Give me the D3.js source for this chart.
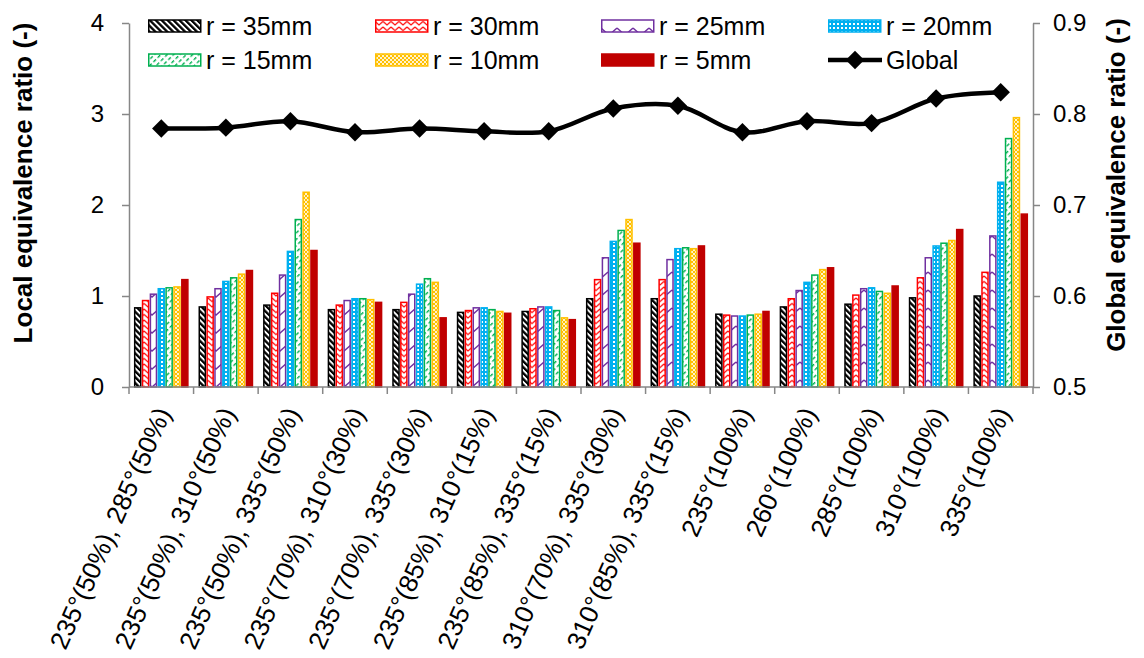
<!DOCTYPE html>
<html>
<head>
<meta charset="utf-8">
<script src="https://cdn.jsdelivr.net/npm/d3@7/dist/d3.min.js"></script>
<style>
  body { margin: 0; background: #fff; }
  text { font-family: "Liberation Sans", Arial, sans-serif; fill: #000; }
</style>
</head>
<body>
<svg id="chart" width="1144" height="658"></svg>
<script>
// Mixture cases on the category axis
const categories = [
  "235°(50%), 285°(50%)", "235°(50%), 310°(50%)", "235°(50%), 335°(50%)",
  "235°(70%), 310°(30%)", "235°(70%), 335°(30%)", "235°(85%), 310°(15%)",
  "235°(85%), 335°(15%)", "310°(70%), 335°(30%)", "310°(85%), 335°(15%)",
  "235°(100%)", "260°(100%)", "285°(100%)", "310°(100%)", "335°(100%)"
];

// Local equivalence ratio at each radius
const seriesNames = ["r = 35mm", "r = 30mm", "r = 25mm", "r = 20mm", "r = 15mm", "r = 10mm", "r = 5mm"];
const r35 = [0.87, 0.88, 0.90, 0.85, 0.85, 0.82, 0.83, 0.97, 0.97, 0.80, 0.88, 0.91, 0.98, 1.00];
const r30 = [0.95, 0.99, 1.03, 0.90, 0.93, 0.84, 0.86, 1.18, 1.18, 0.79, 0.97, 1.01, 1.20, 1.26];
const r25 = [1.02, 1.08, 1.23, 0.95, 1.02, 0.87, 0.88, 1.42, 1.40, 0.78, 1.06, 1.08, 1.42, 1.66];
const r20 = [1.08, 1.16, 1.49, 0.97, 1.13, 0.87, 0.88, 1.60, 1.52, 0.78, 1.15, 1.09, 1.55, 2.25];
const r15 = [1.09, 1.20, 1.84, 0.97, 1.19, 0.85, 0.84, 1.72, 1.53, 0.79, 1.23, 1.05, 1.58, 2.73];
const r10 = [1.10, 1.24, 2.14, 0.96, 1.15, 0.83, 0.76, 1.84, 1.52, 0.80, 1.29, 1.03, 1.61, 2.96];
const r5  = [1.18, 1.28, 1.50, 0.93, 0.76, 0.81, 0.74, 1.58, 1.55, 0.83, 1.31, 1.11, 1.73, 1.90];

// Global equivalence ratio (right axis)
const globalName = "Global";
const globalRatio = [0.784, 0.785, 0.792, 0.780, 0.784, 0.781, 0.781, 0.806, 0.809, 0.780, 0.792, 0.790, 0.817, 0.824];

// Axis ticks
const leftTicks = [0, 1, 2, 3, 4];
const rightTicks = [0.5, 0.6, 0.7, 0.8, 0.9];

const seriesValues = [r35, r30, r25, r20, r15, r10, r5];
const colors = ["#000000", "#FF0000", "#7030A0", "#00B0F0", "#00B050", "#FFC000", "#C00000"];

const svg = d3.select("#chart");
const plotL = 129, plotR = 1033, plotT = 23, plotB = 387;
const axisGrey = "#878787";

// ---- fill patterns ----
const defs = svg.append("defs");
// wide downward diagonal
let p = defs.append("pattern").attr("id", "pat0").attr("patternUnits", "userSpaceOnUse")
  .attr("width", 4.2).attr("height", 4.2).attr("patternTransform", "rotate(-45)");
p.append("rect").attr("width", 4.2).attr("height", 4.2).attr("fill", "#fff");
p.append("rect").attr("width", 2.3).attr("height", 4.2).attr("fill", colors[0]);
// zig zag
p = defs.append("pattern").attr("id", "pat1").attr("patternUnits", "userSpaceOnUse")
  .attr("width", 8).attr("height", 5.5);
p.append("rect").attr("width", 8).attr("height", 5.5).attr("fill", "#fff");
p.append("path").attr("d", "M0,1 L4,4.5 L8,1").attr("fill", "none").attr("stroke", colors[1]).attr("stroke-width", 1.3);
// wave
p = defs.append("pattern").attr("id", "pat2").attr("patternUnits", "userSpaceOnUse")
  .attr("width", 16).attr("height", 18);
p.append("rect").attr("width", 16).attr("height", 18).attr("fill", "#fff");
p.append("path").attr("d", "M0,2 L8,9 L16,2").attr("fill", "none").attr("stroke", colors[2]).attr("stroke-width", 1.4);
// small checker
p = defs.append("pattern").attr("id", "pat3").attr("patternUnits", "userSpaceOnUse")
  .attr("width", 4).attr("height", 4);
p.append("rect").attr("width", 4).attr("height", 4).attr("fill", colors[3]);
p.append("rect").attr("x", 1).attr("y", 1).attr("width", 2).attr("height", 2).attr("fill", "#fff");
// dashed upward diagonal
p = defs.append("pattern").attr("id", "pat4").attr("patternUnits", "userSpaceOnUse")
  .attr("width", 4.5).attr("height", 6).attr("patternTransform", "rotate(45)");
p.append("rect").attr("width", 4.5).attr("height", 6).attr("fill", "#fff");
p.append("rect").attr("width", 1.4).attr("height", 3.5).attr("fill", colors[4]);
// trellis
p = defs.append("pattern").attr("id", "pat5").attr("patternUnits", "userSpaceOnUse")
  .attr("width", 4).attr("height", 4);
p.append("rect").attr("width", 4).attr("height", 4).attr("fill", colors[5]);
p.append("path").attr("d", "M0,0 L4,4 M4,0 L0,4").attr("stroke", "#fff").attr("stroke-width", 0.8);
const fills = ["url(#pat0)", "url(#pat1)", "url(#pat2)", "url(#pat3)", "url(#pat4)", "url(#pat5)", colors[6]];

// ---- scales ----
const x = d3.scaleBand().domain(categories).range([plotL, plotR]).padding(0);
const xs = d3.scaleBand().domain(seriesNames).range([0, x.bandwidth()]).paddingInner(0).paddingOuter(0.61);
const y = d3.scaleLinear().domain([0, 4]).range([plotB, plotT]);
const yR = d3.scaleLinear().domain([0.5, 0.9]).range([plotB, plotT]);

// ---- bars ----
const barData = [];
seriesValues.forEach((vals, si) => vals.forEach((v, ci) => barData.push({ si, ci, v })));
svg.append("g").selectAll("rect").data(barData).join("rect")
  .attr("x", d => x(categories[d.ci]) + xs(seriesNames[d.si]) + 0.9)
  .attr("width", xs.bandwidth() - 1.8)
  .attr("y", d => y(d.v))
  .attr("height", d => y(0) - y(d.v))
  .attr("fill", d => fills[d.si])
  .attr("stroke", d => colors[d.si])
  .attr("stroke-width", 1.5);

// ---- axes ----
const fontTick = 24;
const gL = svg.append("g").attr("transform", `translate(${plotL},0)`)
  .call(d3.axisLeft(y).tickValues(leftTicks).tickSize(7).tickSizeOuter(0).tickPadding(18).tickFormat(d3.format("d")));
const gR = svg.append("g").attr("transform", `translate(${plotR},0)`)
  .call(d3.axisRight(yR).tickValues(rightTicks).tickSize(7).tickSizeOuter(0).tickPadding(13).tickFormat(d3.format(".1f")));
[gL, gR].forEach(g => {
  g.select(".domain").attr("stroke", axisGrey).attr("stroke-width", 1.5);
  g.selectAll(".tick line").attr("stroke", axisGrey).attr("stroke-width", 1.5);
  g.selectAll(".tick text").attr("font-size", fontTick).attr("font-family", "Liberation Sans, Arial, sans-serif").attr("fill", "#000");
});

// category axis: line, boundary ticks, rotated labels
const gX = svg.append("g");
gX.append("line").attr("x1", plotL).attr("x2", plotR).attr("y1", plotB).attr("y2", plotB)
  .attr("stroke", axisGrey).attr("stroke-width", 1.5);
const bounds = categories.map(c => x(c)).concat([x(categories[categories.length - 1]) + x.bandwidth()]);
gX.selectAll("line.b").data(bounds).join("line").attr("class", "b")
  .attr("x1", d => d).attr("x2", d => d).attr("y1", plotB).attr("y2", plotB + 7)
  .attr("stroke", axisGrey).attr("stroke-width", 1.5);
gX.selectAll("text").data(categories).join("text")
  .attr("transform", c => `translate(${x(c) + x.bandwidth() / 2 + 2},${plotB + 22}) rotate(-66)`)
  .attr("text-anchor", "end").attr("dy", "0.35em")
  .attr("font-size", 26)
  .text(c => c);

// ---- global line ----
const cx = i => x(categories[i]) + x.bandwidth() / 2;
svg.append("path").datum(globalRatio)
  .attr("d", d3.line().x((d, i) => cx(i)).y(d => yR(d)).curve(d3.curveCatmullRom.alpha(0.5)))
  .attr("fill", "none").attr("stroke", "#000").attr("stroke-width", 4.5);
const diamond = d3.symbol(d3.symbolSquare, 170)();
svg.append("g").selectAll("path").data(globalRatio).join("path")
  .attr("d", diamond)
  .attr("transform", (d, i) => `translate(${cx(i)},${yR(d)}) rotate(45)`)
  .attr("fill", "#000");

// ---- axis titles ----
svg.append("text").attr("transform", "translate(32,183) rotate(-90)")
  .attr("text-anchor", "middle").attr("font-size", 26).attr("font-weight", "bold")
  .text("Local equivalence ratio (-)");
svg.append("text").attr("transform", "translate(1125,185) rotate(-90)")
  .attr("text-anchor", "middle").attr("font-size", 26).attr("font-weight", "bold")
  .text("Global equivalence ratio (-)");

// ---- legend ----
const legendItems = seriesNames.map((n, i) => ({ name: n, fill: fills[i], color: colors[i], type: "bar" }))
  .concat([{ name: globalName, color: "#000", type: "line" }]);
const colX = [148, 375, 601, 828];
const rowY = [26, 60];
const lg = svg.append("g");
legendItems.forEach((it, i) => {
  const gx = colX[i % 4], gy = rowY[Math.floor(i / 4)];
  const g = lg.append("g").attr("transform", `translate(${gx},${gy})`);
  if (it.type === "bar") {
    g.append("rect").attr("x", 0.75).attr("y", -6).attr("width", 52).attr("height", 12)
      .attr("fill", it.fill).attr("stroke", it.color).attr("stroke-width", 1.5);
  } else {
    g.append("line").attr("x1", 0).attr("x2", 54).attr("y1", 0).attr("y2", 0)
      .attr("stroke", "#000").attr("stroke-width", 4.5);
    g.append("path").attr("d", diamond).attr("transform", "translate(27,0) rotate(45)").attr("fill", "#000");
  }
  g.append("text").attr("x", 58).attr("y", 0).attr("dy", "0.36em").attr("font-size", 25).text(it.name);
});
</script>
</body>
</html>
